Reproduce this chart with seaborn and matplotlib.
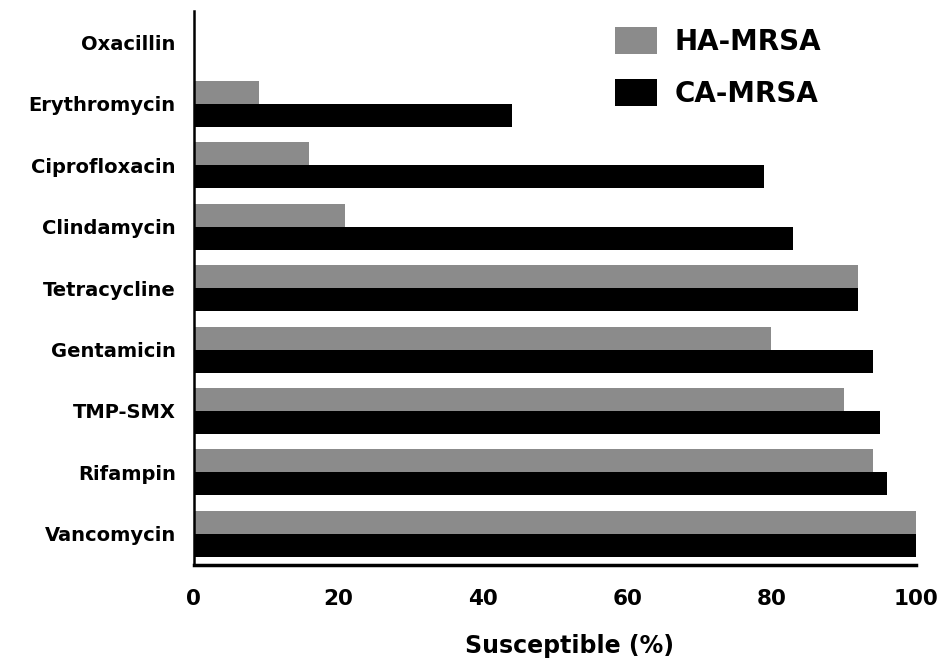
import pandas as pd
import matplotlib.pyplot as plt
import seaborn as sns

sns.set_style("white")
plt.rcParams['font.family'] = ['DejaVu Sans']
plt.rcParams['font.weight'] = 'bold'
plt.rcParams['text.color'] = 'black'
plt.rcParams['xtick.color'] = 'black'
plt.rcParams['ytick.color'] = 'black'
plt.rcParams['axes.labelcolor'] = 'black'

# Data
drugs = ["Oxacillin", "Erythromycin", "Ciprofloxacin", "Clindamycin", "Tetracycline",
         "Gentamicin", "TMP-SMX", "Rifampin", "Vancomycin"]
ha_mrsa = [0, 9, 16, 21, 92, 80, 90, 94, 100]
ca_mrsa = [0, 44, 79, 83, 92, 94, 95, 96, 100]
groups = ["HA-MRSA", "CA-MRSA"]
x_ticks = [0, 20, 40, 60, 80, 100]

df = pd.DataFrame({
    "drug": drugs * 2,
    "pct": ha_mrsa + ca_mrsa,
    "group": [groups[0]] * len(drugs) + [groups[1]] * len(drugs),
})

fig = plt.figure(figsize=(9.41, 6.59), dpi=100)
ax = fig.add_axes([0.206, 0.1426, 0.7673, 0.8412])

sns.barplot(data=df, y="drug", x="pct", hue="group", orient="h", order=drugs,
            hue_order=groups, palette={"HA-MRSA": "#8b8b8b", "CA-MRSA": "black"},
            width=0.75, saturation=1, errorbar=None, linewidth=0, ax=ax)

ax.set_xlim(0, 100)
ax.set_ylim(8.51, -0.52)
ax.set_xticks(x_ticks)
ax.set_xticklabels([str(t) for t in x_ticks], fontsize=15.5, fontweight='bold')
ax.set_yticks(range(len(drugs)))
ax.set_yticklabels(drugs, fontsize=14, fontweight='bold')
ax.tick_params(axis='y', length=0, pad=13)
ax.tick_params(axis='x', direction='out', length=8, width=2, pad=9)
ax.set_ylabel("")
ax.set_xlabel("Susceptible (%)", fontsize=17, fontweight='bold')
ax.xaxis.set_label_coords(0.52, -0.125)

sns.despine(ax=ax)
ax.spines['left'].set_linewidth(1.8)
ax.spines['bottom'].set_linewidth(2.5)
ax.spines['left'].set_color('black')
ax.spines['bottom'].set_color('black')

ax.legend(loc='upper left', bbox_to_anchor=(615 / 941, 1 - 27 / 659),
          bbox_transform=fig.transFigure, frameon=False, borderpad=0, borderaxespad=0,
          handlelength=1.5, handleheight=1.1, handletextpad=0.65, labelspacing=0.85,
          prop={'size': 20, 'weight': 'bold'})

fig.savefig("out.png", dpi=100)
